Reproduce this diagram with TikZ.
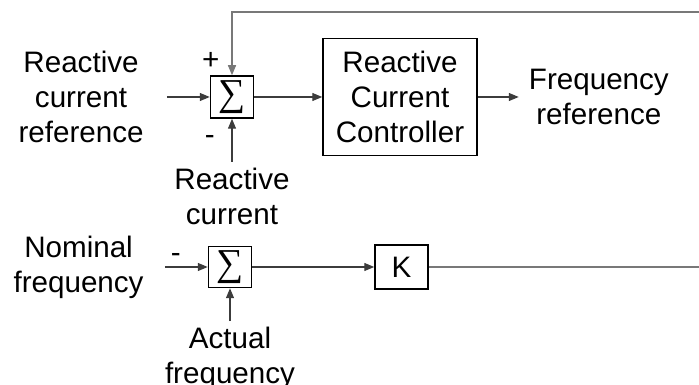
\documentclass[tikz,border=0pt]{standalone}
\usepackage{fontspec}
\setmainfont{Liberation Sans}
\newfontfamily\sumfont{Liberation Serif}
\usepackage{tikz}
\usetikzlibrary{positioning,arrows.meta,calc}
\definecolor{sig}{RGB}{60,60,60}
\definecolor{fbk}{RGB}{120,120,120}

\begin{document}
\begin{tikzpicture}[x=1pt,y=1pt,font=\fontsize{29.6}{35}\selectfont,
  >={Triangle[length=10pt,width=8pt]},
  blk/.style={draw,line width=1.5pt,align=center,inner sep=0pt},
  sumb/.style={blk,minimum width=43pt,minimum height=42pt,font=\sumfont\fontsize{38}{38}\selectfont},
  io/.style={align=center,inner sep=6pt},
  sgn/.style={inner sep=0pt},
  sigl/.style={draw=sig,line width=1.3pt},
  fbl/.style={draw=fbk,line width=1.3pt}]
  \useasboundingbox (0,0) rectangle (699,385);
  % reactive current loop
  \node[sumb] (s1) at (232,288) {∑};
  \node[io,left=60pt of s1] (iref) {Reactive\\current\\reference};
  \node[blk,minimum width=154pt,minimum height=117pt,right=68pt of s1] (ctrl) {Reactive\\Current\\Controller};
  \node[io,right=45pt of ctrl] (fref) {Frequency\\reference};
  \node[io,below=43pt of s1] (iact) {Reactive\\current};
  \node[sgn] (plus) at ([xshift=1pt,yshift=14pt]s1.north west) {+};
  \node[sgn] (mns1) at ([yshift=-21pt]s1.south west) {-};
  \coordinate (fbin) at (699,373);
  % frequency droop
  \node[sumb,minimum height=41pt] (s2) at (230,118) {∑};
  \node[io,left=58pt of s2] (fnom) {Nominal\\frequency};
  \node[sgn] (mns2) at ([xshift=-32pt,yshift=-12pt]s2.north west) {-};
  \node[blk,minimum width=53pt,minimum height=44pt,right=122pt of s2] (gain) {K};
  \node[io,below=33pt of s2] (fact) {Actual\\frequency};
  \coordinate (fbout) at (699,118);
  \draw[sigl,->,shorten <=17pt] (iref) -- (s1);
  \draw[sigl,->] (s1) -- (ctrl);
  \draw[sigl,->,shorten >=4pt] (ctrl) -- (fref);
  \draw[sigl,->] (iact) -- (s1);
  \draw[fbl,->] (fbin) -| (s1);
  \draw[sigl,->,shorten <=15pt] (fnom) -- (s2);
  \draw[sigl,->] (s2) -- (gain);
  \draw[sigl,->] (fact) -- (s2);
  \draw[fbl] (gain) -- (gain -| fbout);
\end{tikzpicture}
\end{document}
